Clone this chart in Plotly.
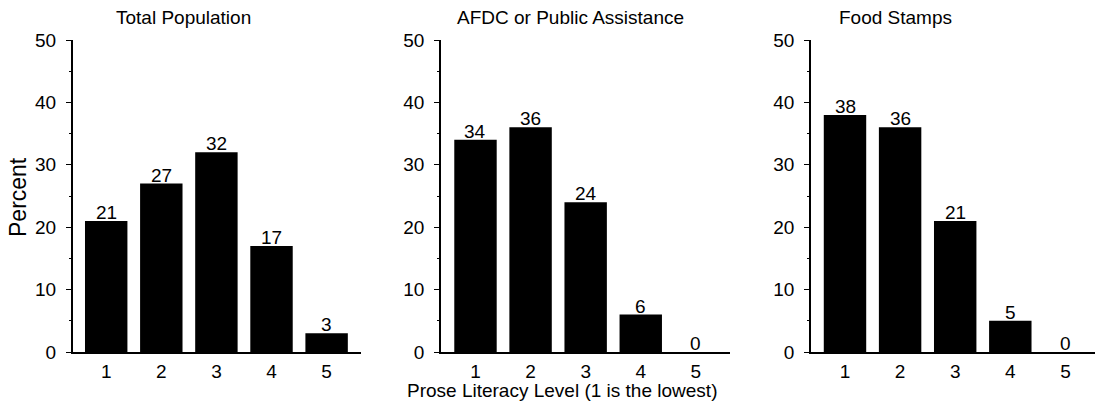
import plotly.graph_objects as go

levels = [1, 2, 3, 4, 5]
total_population = [21, 27, 32, 17, 3]
afdc_public_assistance = [34, 36, 24, 6, 0]
food_stamps = [38, 36, 21, 5, 0]
panel_titles = ["Total Population", "AFDC or Public Assistance", "Food Stamps"]
y_ticks = [0, 10, 20, 30, 40, 50]

W, H = 1095, 404
FONT = "Arial, 'Liberation Sans', Helvetica, sans-serif"

fig = go.Figure()
series = [total_population, afdc_public_assistance, food_stamps]
xdomains = [(72.7 / W, 361 / W), (441 / W, 730 / W), (811 / W, 1.0)]
xranges = [(0.392, 5.624), (0.374, 5.62), (0.383, 5.537)]
ydom = ((H - 352) / H, (H - 40) / H)

annotations = []
for i, vals in enumerate(series):
    n = "" if i == 0 else str(i + 1)
    fig.add_trace(go.Bar(
        x=levels, y=vals, xaxis="x" + n, yaxis="y" + n,
        marker=dict(color="black", line=dict(width=0)),
        width=0.77, showlegend=False, hoverinfo="skip",
    ))
    for lv, v in zip(levels, vals):
        annotations.append(dict(text=str(v), x=lv, y=v, xref="x" + n, yref="y" + n,
                                xanchor="center", yanchor="bottom", showarrow=False, yshift=-4,
                                font=dict(size=19, color="black", family=FONT)))
    fig.layout["xaxis" + n] = dict(
        domain=list(xdomains[i]), range=list(xranges[i]), anchor="y" + n,
        tickmode="array", tickvals=levels, ticktext=[str(l) for l in levels],
        showline=True, linecolor="black", linewidth=1.5, ticks="",
        showgrid=False, zeroline=False, automargin=False,
        tickfont=dict(size=19, color="black", family=FONT),
        ticklabelstandoff=1,
    )
    fig.layout["yaxis" + n] = dict(
        domain=list(ydom), range=[0, 50], anchor="x" + n,
        tickmode="array", tickvals=y_ticks,
        showline=True, linecolor="black", linewidth=1.5,
        ticks="outside", ticklen=5, tickwidth=1, tickcolor="black",
        minor=dict(ticks="outside", ticklen=2, tickwidth=1, tickcolor="black", dtick=5, tick0=0, showgrid=False),
        showgrid=False, zeroline=False, automargin=False,
        tickfont=dict(size=19, color="black", family=FONT),
        ticklabelstandoff=6,
    )

title_x = [183, 570, 895.5]
for t, xc in zip(panel_titles, title_x):
    annotations.append(dict(text=t, x=xc / W, y=1 - 17 / H, xref="paper", yref="paper",
                            xanchor="center", yanchor="middle", showarrow=False,
                            font=dict(size=19, color="black", family=FONT)))
annotations.append(dict(text="Prose Literacy Level (1 is the lowest)", x=562 / W, y=1 - 390 / H,
                        xref="paper", yref="paper", xanchor="center", yanchor="middle", showarrow=False,
                        font=dict(size=19, color="black", family=FONT)))
annotations.append(dict(text="Percent", x=18 / W, y=1 - 197 / H, xref="paper", yref="paper",
                        xanchor="center", yanchor="middle", showarrow=False, textangle=-90,
                        font=dict(size=23, color="black", family=FONT)))

fig.update_layout(
    width=W, height=H, margin=dict(l=0, r=0, t=0, b=0, pad=0, autoexpand=False),
    paper_bgcolor="white", plot_bgcolor="white",
    annotations=annotations,
    font=dict(family=FONT, color="black"),
)
fig.write_html("out.html")
